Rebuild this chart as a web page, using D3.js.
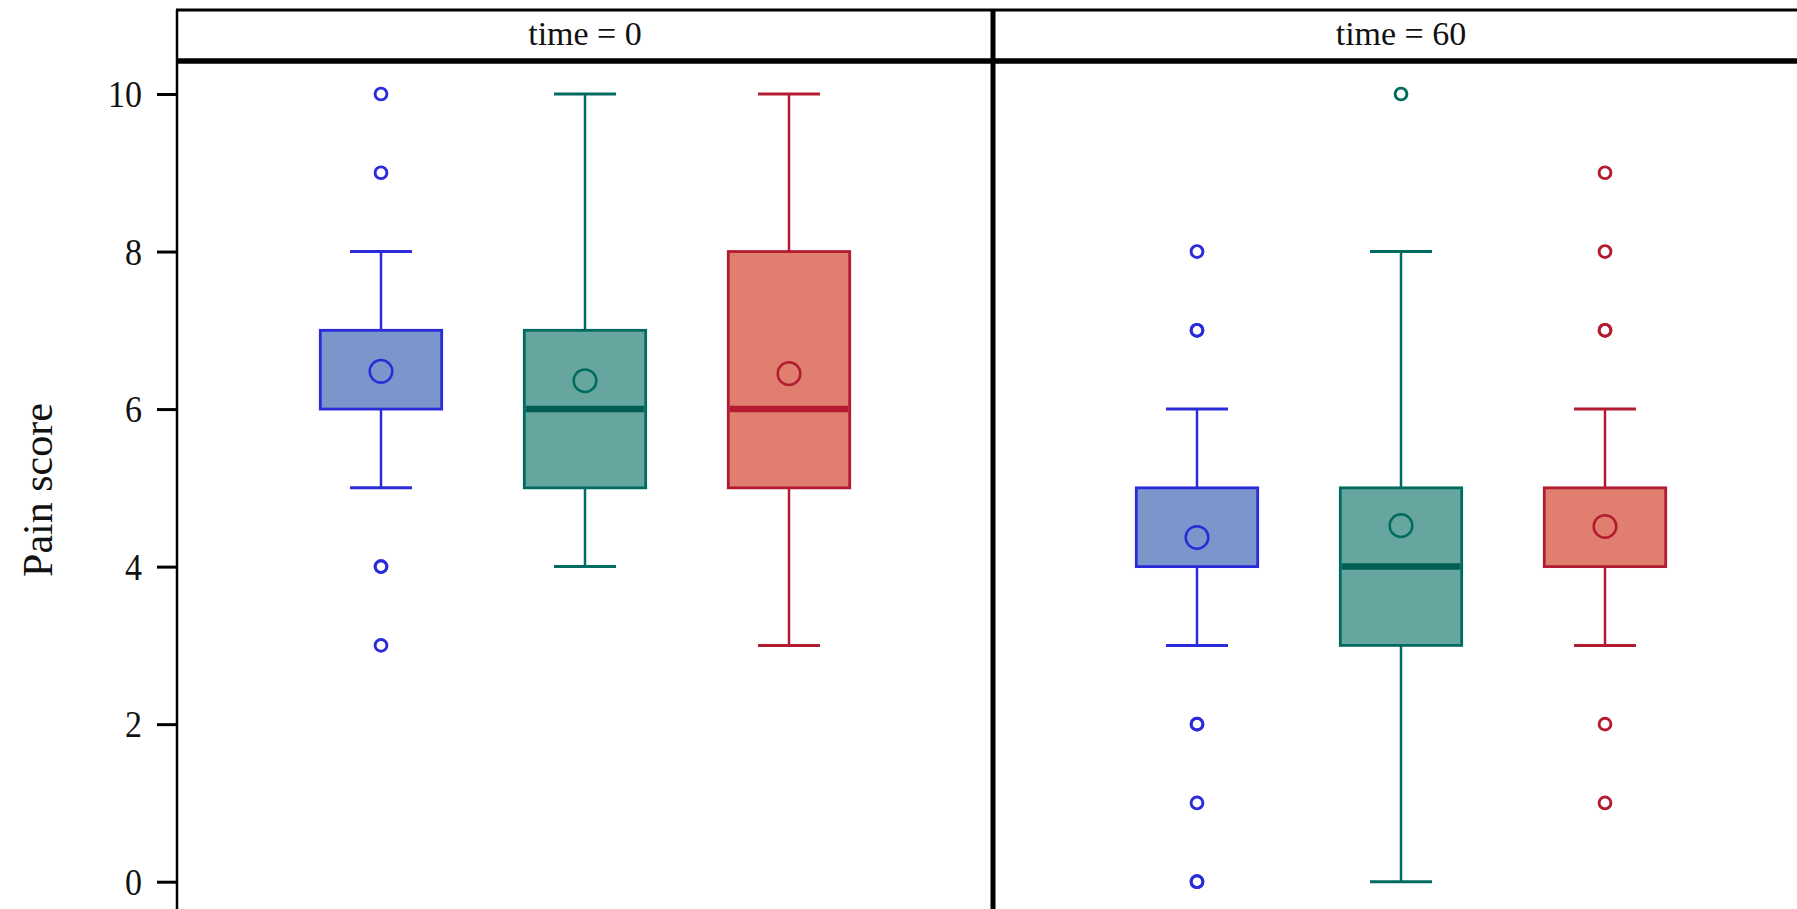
<!DOCTYPE html>
<html>
<head>
<meta charset="utf-8">
<script src="https://cdn.jsdelivr.net/npm/d3@7"></script>
<style>
  body { margin: 0; background: #fff; }
  text { font-family: "Liberation Serif", "Times New Roman", serif; fill: #111; }
</style>
</head>
<body>
<script>
// panels and groups
var times = ["0", "60"];
var groups = ["g1", "g2", "g3"];

// box statistics, [time][group]
var q1 =      [[6, 5, 5], [4, 3, 4]];
var q3 =      [[7, 7, 8], [5, 5, 5]];
var medians = [[6, 6, 6], [4, 4, 4]];
var whiskLo = [[5, 4, 3], [3, 0, 3]];
var whiskHi = [[8, 10, 10], [6, 8, 6]];
var means =   [[6.48, 6.36, 6.45], [4.37, 4.52, 4.51]];
var outliers = [
  [[10, 9, 4, 4, 3], [], []],
  [[8, 7, 7, 2, 2, 1, 0, 0], [10], [9, 8, 7, 7, 2, 1]]
];
var yTicks = [0, 2, 4, 6, 8, 10];

var lineColors = ["#2b2bd9", "#006b5e", "#b31b30"];
var fillColors = ["#7b96cb", "#66a69e", "#e07e6f"];
var medianColors = ["#2b2bd9", "#005f52", "#b31b30"];

var width = 1797, height = 909;
var svg = d3.select("body").append("svg")
  .attr("width", width)
  .attr("height", height);

var left = 177, panelW = 816;
var headTop = 10, headBottom = 61;

var xPanel = d3.scaleBand().domain(times).range([left, left + panelW * 2]);
var xGroup = d3.scalePoint().domain(groups).range([0, panelW]).padding(1);
var y = d3.scaleLinear().domain([0, 10]).range([881.7, 94]);

var boxW = xGroup.step() * 0.595;
var capW = boxW * 0.51;

// boxes
times.forEach(function(t, ti) {
  var g = svg.append("g").attr("transform", "translate(" + xPanel(t) + ",0)");
  groups.forEach(function(gr, gi) {
    var cx = xGroup(gr);
    var col = lineColors[gi];

    // whiskers
    g.append("line").attr("x1", cx).attr("x2", cx)
      .attr("y1", y(q3[ti][gi])).attr("y2", y(whiskHi[ti][gi]))
      .attr("stroke", col).attr("stroke-width", 2.5);
    g.append("line").attr("x1", cx).attr("x2", cx)
      .attr("y1", y(q1[ti][gi])).attr("y2", y(whiskLo[ti][gi]))
      .attr("stroke", col).attr("stroke-width", 2.5);
    [whiskHi[ti][gi], whiskLo[ti][gi]].forEach(function(v) {
      g.append("line").attr("x1", cx - capW / 2).attr("x2", cx + capW / 2)
        .attr("y1", y(v)).attr("y2", y(v))
        .attr("stroke", col).attr("stroke-width", 3);
    });

    // box
    g.append("rect")
      .attr("x", cx - boxW / 2)
      .attr("y", y(q3[ti][gi]))
      .attr("width", boxW)
      .attr("height", y(q1[ti][gi]) - y(q3[ti][gi]))
      .attr("fill", fillColors[gi])
      .attr("stroke", col)
      .attr("stroke-width", 2.8);

    // median, only when inside the box
    var m = medians[ti][gi];
    if (m > q1[ti][gi] && m < q3[ti][gi]) {
      g.append("line")
        .attr("x1", cx - boxW / 2 + 1.5).attr("x2", cx + boxW / 2 - 1.5)
        .attr("y1", y(m)).attr("y2", y(m))
        .attr("stroke", medianColors[gi]).attr("stroke-width", 6.5);
    }

    // mean
    g.append("circle")
      .attr("cx", cx).attr("cy", y(means[ti][gi]))
      .attr("r", 11.3)
      .attr("fill", "none")
      .attr("stroke", col).attr("stroke-width", 2.5);

    // outliers
    g.selectAll(null)
      .data(outliers[ti][gi])
      .enter().append("circle")
      .attr("cx", cx)
      .attr("cy", function(d) { return y(d); })
      .attr("r", 5.9)
      .attr("fill", "none")
      .attr("stroke", col)
      .attr("stroke-width", 2.9);
  });
});

// y axis
var yAxis = d3.axisLeft(y).tickValues(yTicks).tickSize(20).tickPadding(15);
var ax = svg.append("g").attr("transform", "translate(" + left + ",0)").call(yAxis);
ax.select(".domain").remove();
ax.selectAll(".tick line").attr("stroke", "#000").attr("stroke-width", 3);
ax.selectAll(".tick text")
  .style("font-family", "'Liberation Serif', serif")
  .style("font-size", "34px")
  .attr("fill", "#111")
  .attr("dy", "0.34em")
  .attr("transform", "scale(1,1.1)");

// frame
svg.append("line")
  .attr("x1", left).attr("x2", left)
  .attr("y1", headTop).attr("y2", height + 5)
  .attr("stroke", "#000").attr("stroke-width", 2.5);
svg.append("line")
  .attr("x1", xPanel("60")).attr("x2", xPanel("60"))
  .attr("y1", headTop).attr("y2", height + 5)
  .attr("stroke", "#000").attr("stroke-width", 5);
svg.append("line")
  .attr("x1", left - 1).attr("x2", left + panelW * 2)
  .attr("y1", headTop).attr("y2", headTop)
  .attr("stroke", "#000").attr("stroke-width", 3);
svg.append("line")
  .attr("x1", left - 1).attr("x2", left + panelW * 2)
  .attr("y1", headBottom).attr("y2", headBottom)
  .attr("stroke", "#000").attr("stroke-width", 5.5);

// panel headers
svg.selectAll(".head")
  .data(times)
  .enter().append("text")
  .attr("class", "head")
  .attr("x", function(d) { return xPanel(d) + panelW / 2; })
  .attr("y", 45)
  .attr("text-anchor", "middle")
  .style("font-size", "34px")
  .text(function(d) { return "time = " + d; });

// y label
svg.append("text")
  .attr("transform", "translate(52,490) rotate(-90)")
  .attr("text-anchor", "middle")
  .style("font-size", "42px")
  .text("Pain score");
</script>
</body>
</html>
